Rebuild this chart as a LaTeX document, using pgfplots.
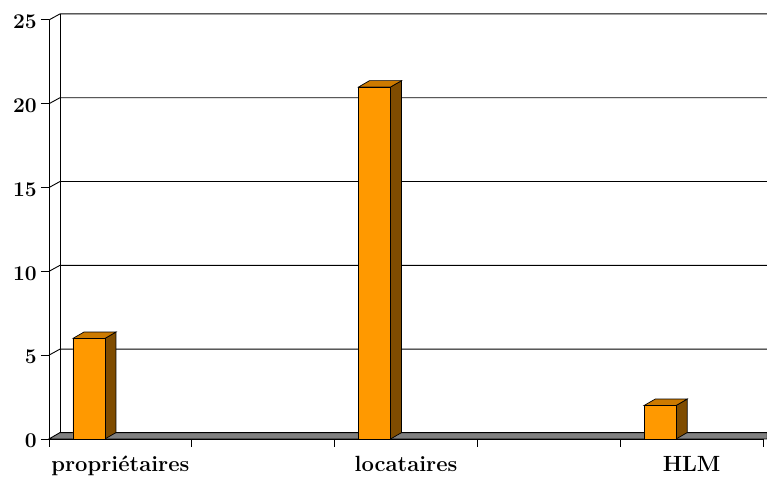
\documentclass[border=0pt]{standalone}
\usepackage{fontspec}
\usepackage{pgfplots}
\pgfplotsset{compat=1.18}
\definecolor{barfront}{HTML}{FF9900}
\definecolor{barside}{HTML}{7F4C00}
\definecolor{bartop}{HTML}{CC7A00}
\definecolor{floorgray}{HTML}{808080}
\begin{document}
\begin{tikzpicture}
\begin{axis}[
  scale only axis, width=714pt, height=419pt,
  xmin=0, xmax=5, ymin=0, ymax=25,
  clip=false,
  axis x line*=bottom, axis y line*=left,
  axis line style={black, line width=0.9pt},
  xtick={0,1,2,3,4,5}, xticklabels={},
  extra x ticks={0.5,2.5,4.5},
  extra x tick labels={propriétaires,locataires,HLM},
  extra x tick style={major tick length=0pt},
  ytick={0,5,10,15,20,25},
  tick align=outside, major tick length=8pt,
  tick style={black, line width=0.9pt},
  /pgf/number format/assume math mode=true,
  yticklabel={\fontsize{21}{23}\selectfont\bfseries\pgfmathprintnumber{\tick}},
  yticklabel style={anchor=east, inner sep=0pt, xshift=-4pt, yshift=-2pt},
  xticklabel style={anchor=base, yshift=-33pt, font=\fontsize{22}{24}\selectfont\bfseries},
]
% back wall grid lines
\draw[line width=0.9pt] (axis cs:0.077,0.36) -- (axis cs:0.077,25.36);
\draw[line width=0.9pt] (axis cs:0,5) -- (axis cs:0.077,5.36) -- (axis cs:5.03,5.36);
\draw[line width=0.9pt] (axis cs:0,10) -- (axis cs:0.077,10.36) -- (axis cs:5.03,10.36);
\draw[line width=0.9pt] (axis cs:0,15) -- (axis cs:0.077,15.36) -- (axis cs:5.03,15.36);
\draw[line width=0.9pt] (axis cs:0,20) -- (axis cs:0.077,20.36) -- (axis cs:5.03,20.36);
\draw[line width=0.9pt] (axis cs:0,25) -- (axis cs:0.077,25.36) -- (axis cs:5.03,25.36);
% floor
\addplot[fill=floorgray, draw=black, line width=0.9pt] coordinates {(0,0) (5.03,0) (5.03,0.38) (0.077,0.38)} -- cycle;
% bar sides
\addplot[fill=barside, draw=black, line width=0.7pt] coordinates {(0.392,0) (0.469,0.38) (0.469,6.38) (0.392,6)} -- cycle;
\addplot[fill=barside, draw=black, line width=0.7pt] coordinates {(2.392,0) (2.469,0.38) (2.469,21.38) (2.392,21)} -- cycle;
\addplot[fill=barside, draw=black, line width=0.7pt] coordinates {(4.392,0) (4.469,0.38) (4.469,2.38) (4.392,2)} -- cycle;
% bar tops
\addplot[fill=bartop, draw=black, line width=0.7pt] coordinates {(0.168,6) (0.392,6) (0.469,6.38) (0.245,6.38)} -- cycle;
\addplot[fill=bartop, draw=black, line width=0.7pt] coordinates {(2.168,21) (2.392,21) (2.469,21.38) (2.245,21.38)} -- cycle;
\addplot[fill=bartop, draw=black, line width=0.7pt] coordinates {(4.168,2) (4.392,2) (4.469,2.38) (4.245,2.38)} -- cycle;
% bar fronts
\addplot[ybar, bar width=0.224, fill=barfront, draw=black, line width=0.7pt] coordinates {(0.28,6) (2.28,21) (4.28,2)};
\coordinate (bl) at (axis cs:-0.343,-2.33);
\coordinate (tr) at (axis cs:5.028,26.19);
\end{axis}
\pgfresetboundingbox
\useasboundingbox (bl) rectangle (tr);
\end{tikzpicture}
\end{document}
